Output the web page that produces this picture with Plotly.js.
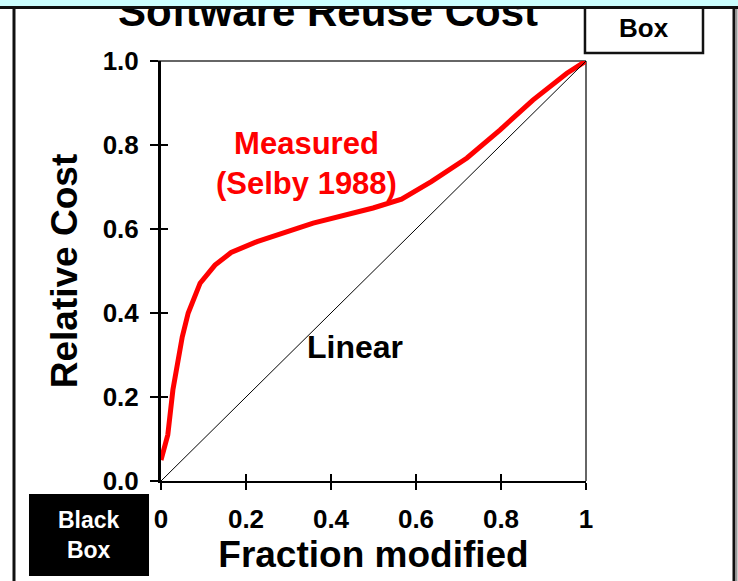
<!DOCTYPE html>
<html>
<head>
<meta charset="utf-8">
<script src="https://cdn.plot.ly/plotly-3.0.1.min.js"></script>
<style>
  html, body { margin: 0; padding: 0; background: #ffffff; }
  #wrap { position: relative; width: 738px; height: 581px; overflow: hidden; }
  #chart { position: absolute; left: 0; top: 0; width: 738px; height: 581px; }
  #band { position: absolute; left: 0; top: 0; width: 738px; height: 6px; background: #ccffff;
          border-bottom: 3px solid #111111; z-index: 10; }
</style>
</head>
<body>
<div id="wrap">
  <div id="chart"></div>
  <div id="band"></div>
</div>
<script>
// ---- data ----
const fractionModified = [0, 0.016, 0.028, 0.05, 0.064, 0.092, 0.127, 0.165, 0.226, 0.358, 0.499, 0.566, 0.636, 0.72, 0.798, 0.875, 0.955, 1.0];
const relativeCost     = [0.05, 0.11, 0.217, 0.343, 0.40, 0.471, 0.514, 0.544, 0.57, 0.614, 0.65, 0.671, 0.713, 0.769, 0.836, 0.907, 0.971, 1.0];
const linearX = [0, 1];
const linearY = [0, 1];
const xTickVals = [0, 0.2, 0.4, 0.6, 0.8, 1];
const xTickText = ["0", "0.2", "0.4", "0.6", "0.8", "1"];
const yTickVals = [0, 0.2, 0.4, 0.6, 0.8, 1.0];
const yTickText = ["0.0", "0.2", "0.4", "0.6", "0.8", "1.0"];

const FONT = "Liberation Sans, Arial, sans-serif";

const traces = [
  { x: linearX, y: linearY, xaxis: "x2", yaxis: "y2", mode: "lines",
    line: { color: "#000000", width: 1 }, hoverinfo: "skip", showlegend: false },
  { x: fractionModified, y: relativeCost, mode: "lines",
    line: { color: "#ff0000", width: 5 }, showlegend: false }
];

const layout = {
  width: 738, height: 581,
  margin: { l: 161, r: 152, t: 61, b: 100, autoexpand: false },
  paper_bgcolor: "#ffffff", plot_bgcolor: "#ffffff",
  font: { family: FONT, color: "#000000" },
  xaxis: {
    range: [0, 1], tickvals: xTickVals, ticktext: xTickText,
    showgrid: false, zeroline: false, showline: true, linecolor: "#000000", linewidth: 2,
    ticks: "outside", ticklen: 7, tickwidth: 1.5, tickcolor: "#000000",
    ticklabelstandoff: 7,
    tickfont: { family: FONT, size: 26, color: "#000000", weight: "bold" },
    title: { text: "<b>Fraction modified</b>", font: { family: FONT, size: 37, color: "#000000" }, standoff: 2 },
    fixedrange: true, automargin: false
  },
  yaxis: {
    range: [0, 1], tickvals: yTickVals, ticktext: yTickText,
    showgrid: false, zeroline: false, showline: true, linecolor: "#000000", linewidth: 3,
    ticks: "outside", ticklen: 8, tickwidth: 1.5, tickcolor: "#000000",
    ticklabelstandoff: 6,
    tickfont: { family: FONT, size: 26, color: "#000000", weight: "bold" },
    title: { text: "<b>Relative Cost</b>", font: { family: FONT, size: 37, color: "#000000" }, standoff: 14 },
    fixedrange: true, automargin: false
  },
  xaxis2: {
    overlaying: "x", anchor: "y2", range: [0, 1], tickvals: xTickVals,
    showticklabels: false, showgrid: false, zeroline: false, showline: false,
    ticks: "inside", ticklen: 7, tickwidth: 1.5, tickcolor: "#000000", fixedrange: true
  },
  yaxis2: {
    overlaying: "y", anchor: "x2", range: [0, 1], tickvals: yTickVals,
    showticklabels: false, showgrid: false, zeroline: false, showline: false,
    ticks: "inside", ticklen: 7, tickwidth: 1.5, tickcolor: "#000000", fixedrange: true
  },
  shapes: [
    // plot frame top and right (thin)
    { type: "line", xref: "paper", yref: "paper", x0: -0.02, x1: 1, y0: 1, y1: 1,
      line: { color: "#333333", width: 1.5 }, layer: "below" },
    { type: "line", xref: "paper", yref: "paper", x0: 1, x1: 1, y0: 0, y1: 1,
      line: { color: "#333333", width: 1.5 }, layer: "below" },
    // slide frame borders
    { type: "line", xref: "paper", yref: "paper", x0: -0.3459, x1: -0.3459, y0: -0.25, y1: 1.2,
      line: { color: "#111111", width: 3 } },
    { type: "line", xref: "paper", yref: "paper", x0: 1.3482, x1: 1.3482, y0: -0.25, y1: 1.2,
      line: { color: "#111111", width: 3 } },
    { type: "line", xref: "paper", yref: "paper", x0: 1.3541, x1: 1.3541, y0: -0.25, y1: 1.2,
      line: { color: "#999999", width: 2 } },
    // "Box" frame top right
    { type: "rect", xref: "paper", yref: "paper", x0: 0.9976, x1: 1.2753, y0: 1.019, y1: 1.15,
      line: { color: "#111111", width: 2.5 }, fillcolor: "#ffffff" },
    // "Black Box" filled rect bottom left
    { type: "rect", xref: "paper", yref: "paper", x0: -0.3106, x1: -0.0282, y0: -0.2262, y1: -0.0310,
      line: { color: "#000000", width: 0 }, fillcolor: "#000000" }
  ],
  annotations: [
    { text: "<b>Software Reuse Cost</b>", xref: "paper", yref: "paper", x: 0.3918, y: 1.119,
      xanchor: "center", yanchor: "middle", showarrow: false,
      font: { family: FONT, size: 42, color: "#000000" } },
    { text: "<b>Box</b>", xref: "paper", yref: "paper", x: 1.1365, y: 1.0786,
      xanchor: "center", yanchor: "middle", showarrow: false,
      font: { family: FONT, size: 26, color: "#000000" } },
    { text: "<b>Black<br>Box</b>", xref: "paper", yref: "paper", x: -0.1694, y: -0.1286,
      xanchor: "center", yanchor: "middle", showarrow: false,
      font: { family: FONT, size: 23, color: "#ffffff" } },
    { text: "<b>Measured<br>(Selby 1988)</b>", xref: "x", yref: "y", x: 0.3412, y: 0.757,
      xanchor: "center", yanchor: "middle", showarrow: false,
      font: { family: FONT, size: 31, color: "#ff0000" } },
    { text: "<b>Linear</b>", xref: "x", yref: "y", x: 0.4565, y: 0.319,
      xanchor: "center", yanchor: "middle", showarrow: false,
      font: { family: FONT, size: 32, color: "#000000" } }
  ]
};

Plotly.newPlot("chart", traces, layout, { displayModeBar: false, staticPlot: true });
</script>
</body>
</html>
